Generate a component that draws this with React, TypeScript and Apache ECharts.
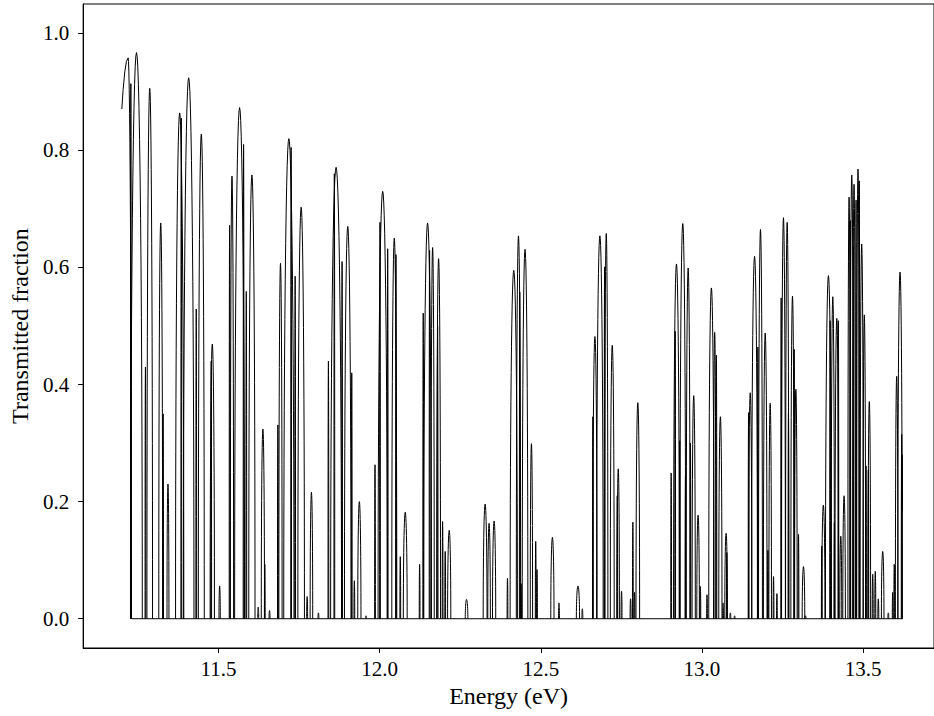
import React, { useEffect, useRef } from "react";
import * as echarts from "echarts";

const X_TICKS = [11.5, 12.0, 12.5, 13.0, 13.5];
const Y_TICKS = [0.0, 0.2, 0.4, 0.6, 0.8, 1.0];
const X_AXIS_MIN = 11.08;
const X_AXIS_MAX = 13.72;
const Y_AXIS_MIN = -0.05;
const Y_AXIS_MAX = 1.05;
const DATA_START = 11.2;
const DATA_END = 13.6222;
const BASELINE_START = 11.2298;

// Transmission windows: [centre (eV), peak transmitted fraction, half-width (eV), optional right half-width]
const BAND_A = [
  [11.2196, 0.958, 0.047, 0.0102],
  [11.228, 0.914, 0.0012],
  [11.2455, 0.967, 0.018],
  [11.2733, 0.43, 0.0012],
  [11.2866, 0.906, 0.0087],
  [11.3207, 0.676, 0.006],
  [11.3281, 0.35, 0.0012],
  [11.3432, 0.23, 0.003],
  [11.3795, 0.864, 0.0128],
  [11.3845, 0.855, 0.0012],
  [11.4074, 0.924, 0.0164],
  [11.4309, 0.529, 0.0012],
  [11.4466, 0.828, 0.0092],
  [11.4773, 0.44, 0.0012],
  [11.4807, 0.469, 0.0067],
  [11.5035, 0.056, 0.002],
];

const BAND_B = [
  [11.5344, 0.672, 0.0012],
  [11.5418, 0.756, 0.005],
  [11.5654, 0.873, 0.0154],
  [11.5778, 0.81, 0.0012],
  [11.5862, 0.559, 0.0012],
  [11.6036, 0.758, 0.0097],
  [11.6232, 0.02, 0.0015],
  [11.6377, 0.324, 0.005],
  [11.6436, 0.093, 0.0012],
  [11.6583, 0.014, 0.0015],
  [11.6842, 0.331, 0.0012],
  [11.6923, 0.607, 0.005],
  [11.7183, 0.82, 0.0159],
  [11.7253, 0.805, 0.0012],
  [11.7378, 0.585, 0.0012],
  [11.7564, 0.703, 0.0102],
  [11.775, 0.038, 0.0015],
  [11.7883, 0.216, 0.004],
];

const BAND_C = [
  [11.81, 0.01, 0.0015],
  [11.841, 0.44, 0.0012],
  [11.8594, 0.76, 0.0012],
  [11.8648, 0.771, 0.0169],
  [11.8834, 0.61, 0.0012],
  [11.901, 0.67, 0.0102],
  [11.9134, 0.42, 0.0012],
  [11.9215, 0.065, 0.0012],
  [11.937, 0.2, 0.005],
  [11.9577, 0.005, 0.0015],
  [11.9856, 0.263, 0.0012],
  [12.001, 0.677, 0.0012],
  [12.0094, 0.73, 0.0143],
  [12.0249, 0.632, 0.0012],
  [12.0454, 0.65, 0.0077],
  [12.0506, 0.622, 0.0012],
  [12.064, 0.106, 0.0012],
  [12.0794, 0.182, 0.006],
];

const BAND_D = [
  [12.124, 0.093, 0.0012],
  [12.1352, 0.522, 0.0012],
  [12.1487, 0.676, 0.012],
  [12.1549, 0.629, 0.0012],
  [12.1643, 0.634, 0.005],
  [12.1798, 0.5, 0.0012],
  [12.1829, 0.615, 0.006],
  [12.1953, 0.166, 0.0012],
  [12.2034, 0.115, 0.0012],
  [12.2158, 0.151, 0.005],
  [12.2696, 0.033, 0.004],
  [12.3272, 0.196, 0.006],
  [12.3395, 0.163, 0.004],
  [12.3551, 0.167, 0.005],
  [12.3966, 0.069, 0.0012],
];

const BAND_E = [
  [12.4161, 0.595, 0.0113],
  [12.4307, 0.654, 0.0067],
  [12.4347, 0.558, 0.0012],
  [12.439, 0.06, 0.0012],
  [12.4511, 0.631, 0.0087],
  [12.4709, 0.299, 0.0036],
  [12.4842, 0.132, 0.0012],
  [12.4882, 0.084, 0.0012],
  [12.536, 0.139, 0.005],
  [12.5564, 0.027, 0.0015],
  [12.6153, 0.056, 0.005],
  [12.6289, 0.017, 0.0015],
  [12.6616, 0.345, 0.0012],
  [12.6679, 0.482, 0.0067],
  [12.6833, 0.654, 0.0102],
  [12.6979, 0.601, 0.0012],
  [12.7031, 0.658, 0.005],
];

const BAND_F = [
  [12.7217, 0.467, 0.006],
  [12.7372, 0.21, 0.0012],
  [12.7403, 0.256, 0.0036],
  [12.7505, 0.047, 0.0015],
  [12.7785, 0.034, 0.0015],
  [12.7856, 0.165, 0.0012],
  [12.7909, 0.045, 0.0012],
  [12.801, 0.369, 0.0056],
  [12.9045, 0.249, 0.0012],
  [12.9169, 0.491, 0.0012],
  [12.9209, 0.606, 0.009],
  [12.931, 0.304, 0.0012],
  [12.9405, 0.675, 0.009],
  [12.9488, 0.244, 0.0012],
  [12.9572, 0.599, 0.006],
  [12.9642, 0.3, 0.0012],
  [12.9744, 0.381, 0.005],
  [12.988, 0.177, 0.004],
  [12.9951, 0.055, 0.0012],
  [13.0157, 0.041, 0.0012],
];

const BAND_G = [
  [13.0293, 0.565, 0.0082],
  [13.0395, 0.489, 0.0036],
  [13.0448, 0.45, 0.0012],
  [13.0572, 0.345, 0.005],
  [13.0656, 0.027, 0.0012],
  [13.0749, 0.146, 0.004],
  [13.0772, 0.113, 0.0012],
  [13.0881, 0.01, 0.0015],
  [13.1014, 0.005, 0.0015],
  [13.1447, 0.352, 0.0012],
  [13.1498, 0.386, 0.005],
  [13.1632, 0.619, 0.009],
  [13.1735, 0.464, 0.0012],
  [13.1816, 0.665, 0.006],
  [13.1963, 0.488, 0.0056],
  [13.2047, 0.117, 0.0012],
  [13.2117, 0.368, 0.004],
  [13.2221, 0.072, 0.0012],
  [13.2326, 0.043, 0.0012],
  [13.2458, 0.548, 0.0012],
  [13.2529, 0.685, 0.006],
  [13.2644, 0.677, 0.005],
  [13.2684, 0.352, 0.0012],
  [13.2809, 0.551, 0.005],
  [13.2862, 0.46, 0.0012],
  [13.2914, 0.392, 0.004],
  [13.2996, 0.144, 0.0012],
  [13.315, 0.089, 0.004],
];

const BAND_H = [
  [13.3214, 0.005, 0.0015],
  [13.3718, 0.124, 0.0012],
  [13.3767, 0.194, 0.005],
  [13.3924, 0.586, 0.0092],
  [13.3976, 0.509, 0.0012],
  [13.406, 0.55, 0.005],
  [13.4109, 0.164, 0.0012],
  [13.4184, 0.513, 0.0056],
  [13.4233, 0.509, 0.0012],
  [13.4308, 0.141, 0.003],
  [13.441, 0.21, 0.004],
  [13.4565, 0.72, 0.0036],
  [13.4603, 0.68, 0.0012],
  [13.4648, 0.758, 0.005],
  [13.4698, 0.636, 0.0012],
  [13.4719, 0.742, 0.004],
  [13.4782, 0.715, 0.0012],
  [13.4842, 0.768, 0.004],
  [13.4883, 0.748, 0.0012],
  [13.4957, 0.64, 0.005],
  [13.5038, 0.519, 0.004],
  [13.5091, 0.261, 0.0012],
  [13.5163, 0.254, 0.0012],
  [13.5193, 0.371, 0.004],
  [13.5298, 0.076, 0.0015],
  [13.5378, 0.081, 0.0015],
  [13.5472, 0.034, 0.0015],
  [13.5608, 0.115, 0.004],
  [13.5782, 0.01, 0.0015],
  [13.5918, 0.045, 0.0012],
  [13.5967, 0.093, 0.0012],
  [13.6042, 0.414, 0.004],
  [13.6146, 0.592, 0.007],
  [13.6197, 0.315, 0.0012],
  [13.6213, 0.28, 0.0012],
];

const FONT = "Liberation Serif";

function toItem(p: number[]) {
  return [p[0], p[1], p[2], p.length > 3 ? p[3] : p[2]];
}

function renderArch(params: any, api: any) {
  const c = api.value(0);
  const h = api.value(1);
  const lw = api.value(2);
  const rw = api.value(3);
  const N = 28;
  const pts: number[][] = [];
  for (let i = 0; i <= N; i++) {
    const th = -Math.PI / 2 + (Math.PI * i) / N;
    const w = th < 0 ? lw : rw;
    let x = c + w * Math.sin(th);
    let y = h * Math.cos(th);
    if (x < DATA_START || x > DATA_END) {
      x = x < DATA_START ? DATA_START : DATA_END;
      const u = (x - c) / w;
      y = h * Math.sqrt(Math.max(0, 1 - u * u));
    }
    pts.push(api.coord([x, y]));
  }
  return {
    type: "polyline",
    silent: true,
    shape: { points: pts },
    style: { stroke: "#000", lineWidth: 1, fill: null },
  };
}

export default function App() {
  const ref = useRef<HTMLDivElement>(null);
  useEffect(() => {
    document.body.style.margin = "0";
    const chart = echarts.init(ref.current!, null, { renderer: "svg" });
    const peaks = [
      ...BAND_A, ...BAND_B, ...BAND_C, ...BAND_D,
      ...BAND_E, ...BAND_F, ...BAND_G, ...BAND_H,
    ].map(toItem);
    chart.setOption({
      animation: false,
      backgroundColor: "#fff",
      grid: {
        left: 82,
        top: 4,
        width: 860,
        height: 644,
        show: true,
        borderColor: "#000",
        borderWidth: 1,
        backgroundColor: "transparent",
      },
      xAxis: {
        type: "value",
        min: X_AXIS_MIN,
        max: X_AXIS_MAX,
        name: "Energy (eV)",
        nameLocation: "middle",
        nameGap: 34,
        nameTextStyle: { fontFamily: FONT, fontSize: 24, color: "#000" },
        splitLine: { show: false },
        axisLine: { show: true, onZero: false, lineStyle: { color: "#000", width: 1 } },
        axisTick: { show: true, length: 5, customValues: X_TICKS, lineStyle: { color: "#000" } },
        axisLabel: {
          customValues: X_TICKS,
          formatter: (v: number) => v.toFixed(1),
          fontFamily: FONT,
          fontSize: 21,
          color: "#000",
          margin: 10,
        },
      },
      yAxis: {
        type: "value",
        min: Y_AXIS_MIN,
        max: Y_AXIS_MAX,
        name: "Transmitted fraction",
        nameLocation: "middle",
        nameGap: 50,
        nameTextStyle: { fontFamily: FONT, fontSize: 24, color: "#000" },
        splitLine: { show: false },
        axisLine: { show: true, onZero: false, lineStyle: { color: "#000", width: 1 } },
        axisTick: { show: true, length: 5, customValues: Y_TICKS, lineStyle: { color: "#000" } },
        axisLabel: {
          customValues: Y_TICKS,
          formatter: (v: number) => v.toFixed(1),
          fontFamily: FONT,
          fontSize: 21,
          color: "#000",
          margin: 14,
        },
      },
      series: [
        {
          type: "line",
          data: [[BASELINE_START, 0], [DATA_END, 0]],
          symbol: "none",
          lineStyle: { color: "#000", width: 1 },
          silent: true,
        },
        {
          type: "custom",
          renderItem: renderArch,
          dimensions: ["centre", "height", "leftHalfWidth", "rightHalfWidth"],
          encode: { x: 0, y: 1 },
          data: peaks,
          silent: true,
        },
      ],
    });
    return () => chart.dispose();
  }, []);
  return (
    <div
      ref={ref}
      style={{ position: "absolute", left: 0, top: 0, width: 934, height: 716 }}
    />
  );
}
